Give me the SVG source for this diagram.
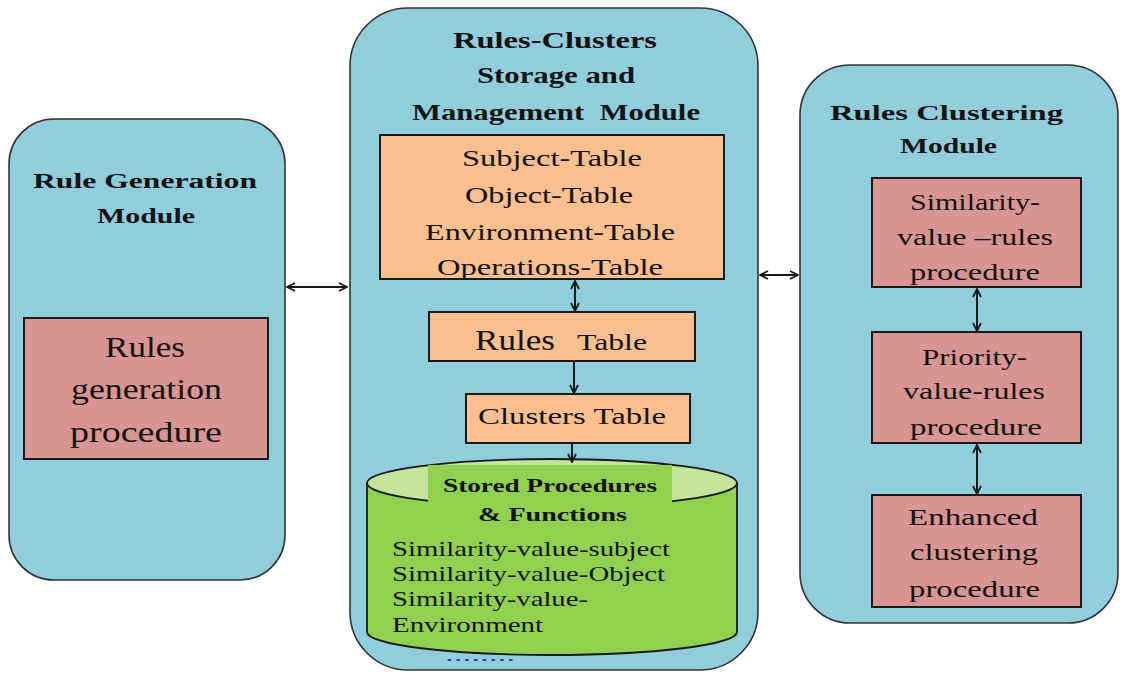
<svg xmlns="http://www.w3.org/2000/svg" width="1126" height="673" viewBox="0 0 1126 673">
<defs>
<style>
.mod{fill:#92cddc;stroke:#333;stroke-width:1.6}
.pink{fill:#d99594;stroke:#1a1a1a;stroke-width:2}
.orange{fill:#fabf8f;stroke:#1a1a1a;stroke-width:2}
.t{font-family:'Liberation Serif','DejaVu Serif','Times New Roman',serif;fill:#141414}
.b{font-weight:bold}
.c{text-anchor:middle}
.ln{stroke:#1a1a1a;stroke-width:2;fill:none}
</style>
<marker id="ah" viewBox="0 0 10 10" refX="9" refY="5" markerWidth="10" markerHeight="10" markerUnits="userSpaceOnUse" orient="auto-start-reverse">
<path d="M1,1 L9,5 L1,9" fill="none" stroke="#1a1a1a" stroke-width="1.8"/>
</marker>
</defs>
<rect width="1126" height="673" fill="#fff"/>

<g id="rule-generation-module">
<rect class="mod" x="9" y="119" width="276" height="461" rx="45" ry="45"/>
<text class="t b c" font-family="Liberation Serif, DejaVu Serif, serif" x="145" y="188" font-size="21" textLength="224" lengthAdjust="spacingAndGlyphs">Rule Generation</text>
<text class="t b c" font-family="Liberation Serif, DejaVu Serif, serif" x="146" y="223" font-size="21" textLength="98" lengthAdjust="spacingAndGlyphs">Module</text>
</g>
<g id="rules-generation-procedure" font-family="Liberation Serif, DejaVu Serif, serif">
<rect class="pink" x="24" y="318" width="244" height="141"/>
<text class="t c" x="145" y="357" font-size="29" textLength="80" lengthAdjust="spacingAndGlyphs">Rules</text>
<text class="t c" x="146.5" y="399" font-size="29" textLength="151" lengthAdjust="spacingAndGlyphs">generation</text>
<text class="t c" x="146" y="442" font-size="29" textLength="152" lengthAdjust="spacingAndGlyphs">procedure</text>
</g>

<g id="storage-module">
<rect class="mod" x="350" y="8" width="408" height="662" rx="58" ry="58"/>
<text class="t b c" x="555" y="48" font-size="23" textLength="204" lengthAdjust="spacingAndGlyphs">Rules-Clusters</text>
<text class="t b c" x="556" y="83" font-size="23" textLength="158" lengthAdjust="spacingAndGlyphs">Storage and</text>
<text class="t b c" x="556" y="120" font-size="23" textLength="288" lengthAdjust="spacingAndGlyphs" xml:space="preserve">Management  Module</text>
</g>
<g id="tables-box">
<rect class="orange" x="380" y="135" width="344" height="144"/>
<text class="t c" x="552" y="166" font-size="23" textLength="180" lengthAdjust="spacingAndGlyphs">Subject-Table</text>
<text class="t c" x="549" y="203" font-size="23" textLength="168" lengthAdjust="spacingAndGlyphs">Object-Table</text>
<text class="t c" x="550" y="240" font-size="23" textLength="250" lengthAdjust="spacingAndGlyphs">Environment-Table</text>
<text class="t c" x="550" y="275" font-size="23" textLength="226" lengthAdjust="spacingAndGlyphs">Operations-Table</text>
</g>
<g id="rules-table">
<rect class="orange" x="429" y="312" width="266" height="49"/>
<text class="t" x="475" y="350" font-size="29" textLength="80" lengthAdjust="spacingAndGlyphs">Rules</text>
<text class="t" x="577" y="350" font-size="23" textLength="70" lengthAdjust="spacingAndGlyphs">Table</text>
</g>
<g id="clusters-table">
<rect class="orange" x="466" y="394" width="224" height="49"/>
<text class="t c" x="572" y="424" font-size="23" textLength="188" lengthAdjust="spacingAndGlyphs">Clusters Table</text>
</g>
<g id="stored-procedures">
<path d="M367,483 L367,632 A185,23 0 0 0 737,632 L737,483 Z" fill="#92d050" stroke="#1a1a1a" stroke-width="1.8"/>
<ellipse cx="552" cy="483" rx="185" ry="24" fill="#c3e59c" stroke="#1a1a1a" stroke-width="1.8"/>
<rect x="428" y="465" width="244" height="45" fill="#92d050"/>
<text class="t b c" x="550" y="492" font-size="19" textLength="214" lengthAdjust="spacingAndGlyphs">Stored Procedures</text>
<text class="t b c" x="552.5" y="521" font-size="19" textLength="149" lengthAdjust="spacingAndGlyphs">&amp; Functions</text>
<text class="t" x="392" y="556" font-size="22" textLength="278" lengthAdjust="spacingAndGlyphs">Similarity-value-subject</text>
<text class="t" x="392" y="581" font-size="22" textLength="273" lengthAdjust="spacingAndGlyphs">Similarity-value-Object</text>
<text class="t" x="392" y="606" font-size="22" textLength="196" lengthAdjust="spacingAndGlyphs">Similarity-value-</text>
<text class="t" x="392" y="632" font-size="22" textLength="151" lengthAdjust="spacingAndGlyphs">Environment</text>
<text class="t" x="445" y="661" font-size="16" style="fill:#24408f" textLength="70" lengthAdjust="spacingAndGlyphs">........</text>
</g>

<g id="rules-clustering-module">
<rect class="mod" x="800" y="65" width="318" height="558" rx="50" ry="50"/>
<text class="t b c" x="946.5" y="120" font-size="22" textLength="233" lengthAdjust="spacingAndGlyphs">Rules Clustering</text>
<text class="t b c" x="948.5" y="153" font-size="22" textLength="97" lengthAdjust="spacingAndGlyphs">Module</text>
</g>
<g id="similarity-value-rules">
<rect class="pink" x="872" y="178" width="209" height="109"/>
<text class="t c" x="975" y="210" font-size="24" textLength="130" lengthAdjust="spacingAndGlyphs">Similarity-</text>
<text class="t c" x="975" y="245" font-size="24" textLength="156" lengthAdjust="spacingAndGlyphs">value –rules</text>
<text class="t c" x="975" y="280" font-size="24" textLength="130" lengthAdjust="spacingAndGlyphs">procedure</text>
</g>
<g id="priority-value-rules">
<rect class="pink" x="872" y="332" width="209" height="111"/>
<text class="t c" x="974.5" y="365" font-size="24" textLength="105" lengthAdjust="spacingAndGlyphs">Priority-</text>
<text class="t c" x="974" y="399" font-size="24" textLength="142" lengthAdjust="spacingAndGlyphs">value-rules</text>
<text class="t c" x="976" y="435" font-size="24" textLength="132" lengthAdjust="spacingAndGlyphs">procedure</text>
</g>
<g id="enhanced-clustering">
<rect class="pink" x="872" y="495" width="209" height="112"/>
<text class="t c" x="973" y="525" font-size="24" textLength="130" lengthAdjust="spacingAndGlyphs">Enhanced</text>
<text class="t c" x="974" y="560" font-size="24" textLength="128" lengthAdjust="spacingAndGlyphs">clustering</text>
<text class="t c" x="974.5" y="597" font-size="24" textLength="131" lengthAdjust="spacingAndGlyphs">procedure</text>
</g>

<g id="connectors">
<line class="ln" x1="287" y1="287" x2="347" y2="287" marker-start="url(#ah)" marker-end="url(#ah)"/>
<line class="ln" x1="760" y1="275" x2="798" y2="275" marker-start="url(#ah)" marker-end="url(#ah)"/>
<line class="ln" x1="575" y1="281" x2="575" y2="311" marker-start="url(#ah)" marker-end="url(#ah)"/>
<line class="ln" x1="574" y1="362" x2="574" y2="393" marker-end="url(#ah)"/>
<line class="ln" x1="572" y1="444" x2="572" y2="462" marker-end="url(#ah)"/>
<line class="ln" x1="977" y1="289" x2="977" y2="331" marker-start="url(#ah)" marker-end="url(#ah)"/>
<line class="ln" x1="977" y1="445" x2="977" y2="494" marker-start="url(#ah)" marker-end="url(#ah)"/>
</g>
</svg>
